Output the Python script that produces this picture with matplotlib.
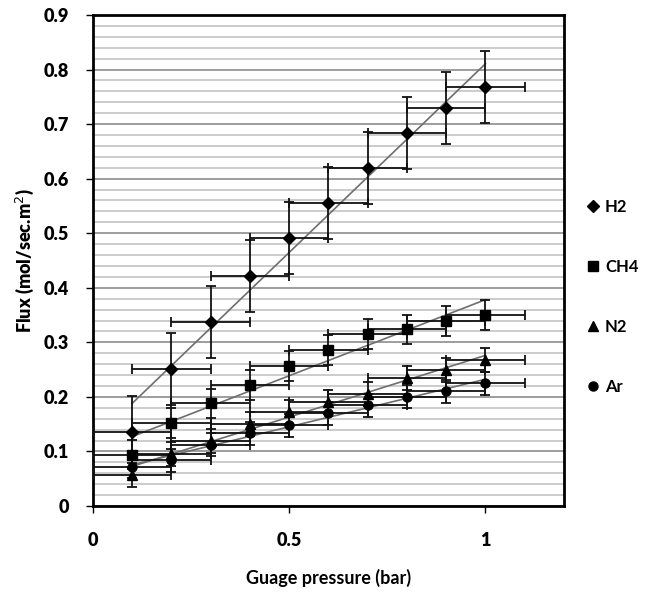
import matplotlib
matplotlib.use("Agg")
import matplotlib.pyplot as plt
import numpy as np

plt.rcParams['font.family'] = ['Lato', 'DejaVu Sans']

pressure = [0.1, 0.2, 0.3, 0.4, 0.5, 0.6, 0.7, 0.8, 0.9, 1.0]
h2 = [0.136, 0.252, 0.338, 0.422, 0.491, 0.555, 0.619, 0.684, 0.729, 0.768]
ch4 = [0.094, 0.152, 0.188, 0.222, 0.257, 0.286, 0.315, 0.324, 0.339, 0.350]
n2 = [0.057, 0.095, 0.120, 0.151, 0.173, 0.191, 0.206, 0.234, 0.249, 0.268]
ar = [0.072, 0.084, 0.112, 0.133, 0.148, 0.170, 0.185, 0.200, 0.210, 0.225]
y_err = {'H2': 0.066, 'CH4': 0.027, 'N2': 0.022, 'Ar': 0.021}
x_err = 0.1

series = [('H2', h2, 'D', 6), ('CH4', ch4, 's', 6.5), ('N2', n2, '^', 7.5), ('Ar', ar, 'o', 6.5)]

fig = plt.figure(figsize=(6.52, 5.95), dpi=100)
ax = fig.add_axes([0.1426, 0.1496, 0.7224, 0.8252])

x = np.array(pressure)
for name, vals, mk, ms in series:
    ax.errorbar(x, vals, yerr=y_err[name], xerr=x_err, fmt=mk, ms=ms,
                color='black', ecolor='#111111', elinewidth=1.3, capsize=3.5,
                capthick=1.3, zorder=3)
    k, b = np.polyfit(x, vals, 1)
    xl = np.array([x[0], x[-1]])
    ax.plot(xl, k * xl + b, color='#6e6e6e', lw=1.2, zorder=2)

ax.set_xlim(0, 1.2)
ax.set_ylim(0, 0.9)
ax.set_xticks([0, 0.5, 1])
ax.set_xticklabels(['0', '0.5', '1'])
ax.set_yticks(np.arange(0, 0.91, 0.1))
ax.set_yticklabels(['0', '0.1', '0.2', '0.3', '0.4', '0.5', '0.6', '0.7', '0.8', '0.9'])
ax.set_yticks(np.arange(0, 0.9, 0.02), minor=True)
ax.tick_params(axis='y', which='minor', length=0)
ax.tick_params(which='major', direction='out', length=5, width=1, labelsize=13)
ax.tick_params(axis='x', which='major', pad=14)
ax.tick_params(axis='y', which='major', pad=12)
for lab in ax.get_xticklabels() + ax.get_yticklabels():
    lab.set_fontweight('heavy')
ax.grid(axis='y', which='major', color='#8c8c8c', lw=1.2, zorder=0)
ax.grid(axis='y', which='minor', color='#c4c4c4', lw=1.2, zorder=0)
ax.set_axisbelow(True)
for sp in ax.spines.values():
    sp.set_linewidth(2)

ax.set_xlabel('Guage pressure (bar)', fontsize=13, fontweight='bold', labelpad=14)
ax.set_ylabel('Flux (mol/sec.m$^2$)', fontsize=13, fontweight='heavy', labelpad=6)

handles = [plt.Line2D([], [], ls='none', marker=mk, ms=ms, color='black')
           for name, vals, mk, ms in series]
leg = ax.legend(handles, [s[0] for s in series], loc='center left',
                bbox_to_anchor=(1.02, 0.426), frameon=False, labelspacing=2.65,
                handlelength=0.6, handletextpad=0.4,
                prop={'weight': 'bold', 'size': 12})

fig.savefig('out.png', dpi=100)
